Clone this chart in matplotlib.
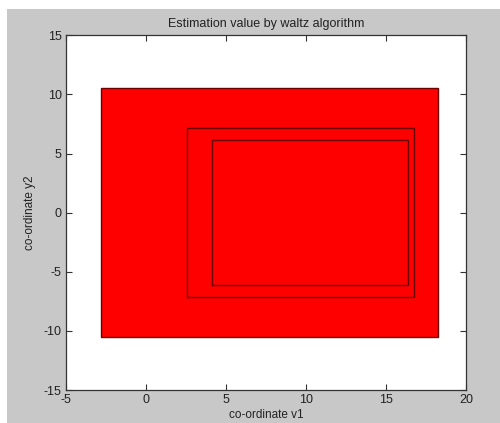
import matplotlib.pyplot as plt
from matplotlib.patches import Rectangle

plt.rcParams['font.family'] = ['Liberation Sans', 'DejaVu Sans']
plt.rcParams['font.size'] = 8.5
plt.rcParams['axes.unicode_minus'] = False

# filled estimation box and two outline boxes: [xmin, xmax, ymin, ymax]
filled_box = [-2.8, 18.27, -10.55, 10.55]
outline_boxes = [
    [2.56, 16.77, -7.12, 7.12],
    [4.12, 16.39, -6.12, 6.12],
]

x_ticks = [-5, 0, 5, 10, 15, 20]
y_ticks = [-15, -10, -5, 0, 5, 10, 15]

fig = plt.figure(figsize=(5.0, 4.23), dpi=100)
fig.patch.set_facecolor('white')
# grey matlab-style figure area (small white border top-left)
fig.patches.append(Rectangle((7 / 500, 0), 1, 1 - 9 / 423, transform=fig.transFigure,
                             facecolor='#c8c8c8', edgecolor='none', zorder=-10))

ax = fig.add_axes([66 / 500, 1 - 390 / 423, 400 / 500, (390 - 35.3) / 423])
ax.set_facecolor('white')

x0, x1, y0, y1 = filled_box
ax.fill([x0, x1, x1, x0], [y0, y0, y1, y1], facecolor='#ff0000',
        edgecolor='#700000', linewidth=1.0)

for x0, x1, y0, y1 in outline_boxes:
    ax.plot([x0, x1, x1, x0, x0], [y0, y0, y1, y1, y0], color='#6a0000', linewidth=1.0)

ax.set_xlim(-5, 20)
ax.set_ylim(-15, 15)
ax.set_xticks(x_ticks)
ax.set_yticks(y_ticks)
ax.tick_params(direction='in', top=True, right=True, length=4, width=0.8,
               colors='#333333', labelcolor='#222222', pad=3, labelsize=9)
for s in ax.spines.values():
    s.set_color('#333333')
    s.set_linewidth(0.9)

ax.set_title('Estimation value by waltz algorithm', color='#222222', pad=6, fontsize=9)
ax.set_xlabel('co-ordinate v1', color='#222222', labelpad=2)
ax.set_ylabel('co-ordinate y2', color='#222222', labelpad=6)

fig.savefig('out.png', dpi=100)
